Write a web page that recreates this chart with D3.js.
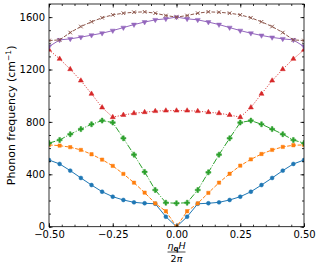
<!DOCTYPE html>
<html>
<head>
<meta charset="utf-8">
<script src="https://cdn.jsdelivr.net/npm/d3@7"></script>
<style>
  body { margin: 0; background: #fff; }
  text { font-family: "DejaVu Sans", sans-serif; }
</style>
</head>
<body>
<div id="chart"></div>
<script>
// q points along the path (units of 2π/H)
const qPoints = [-0.5, -0.4583, -0.4167, -0.375, -0.3333, -0.2917, -0.25, -0.2083, -0.1667, -0.125, -0.0833, -0.0417, 0,
  0.0417, 0.0833, 0.125, 0.1667, 0.2083, 0.25, 0.2917, 0.3333, 0.375, 0.4167, 0.4583, 0.5];

// phonon branches, cm^-1
const band1 = [509, 479, 428, 372, 318, 267, 229, 204, 186, 179, 175, 76, 0, 76, 175, 179, 186, 204, 229, 267, 318, 372, 428, 479, 509];
const band2 = [624, 619, 607, 586, 553, 512, 464, 403, 336, 260, 178, 118, 0, 118, 178, 258, 336, 404, 466, 514, 555, 586, 609, 622, 624];
const band3 = [638, 662, 706, 745, 782, 810, 795, 675, 550, 418, 280, 183, 179, 183, 280, 415, 550, 675, 795, 810, 782, 745, 706, 662, 638];
const band4 = [1350, 1281, 1202, 1115, 1014, 910, 836, 853, 866, 874, 882, 886, 886, 886, 882, 874, 866, 853, 836, 910, 1014, 1115, 1202, 1281, 1350];
const band5 = [1375, 1426, 1434, 1447, 1462, 1477, 1497, 1520, 1543, 1562, 1579, 1587, 1600, 1587, 1579, 1562, 1543, 1520, 1497, 1477, 1460, 1445, 1434, 1426, 1375];
const band6 = [1421, 1426, 1482, 1528, 1564, 1595, 1617, 1630, 1637, 1640, 1630, 1612, 1600, 1612, 1630, 1640, 1637, 1630, 1617, 1595, 1564, 1528, 1482, 1426, 1421];

const xMajor = [-0.5, -0.25, 0, 0.25, 0.5];
const yMajor = [0, 400, 800, 1200, 1600];

const width = 317, height = 266;
const margin = { top: 4, right: 13, bottom: 39.3, left: 49 };

const svg = d3.select("#chart").append("svg")
  .attr("width", width)
  .attr("height", height);

const x = d3.scaleLinear().domain([-0.5, 0.5]).range([margin.left, width - margin.right]);
const y = d3.scaleLinear().domain([0, 1700]).range([height - margin.bottom, margin.top]);

const xMinor = d3.range(-10, 11).map(d => d * 0.05);
const yMinor = d3.range(0, 18).map(d => d * 100);

// clip to axes box
svg.append("clipPath").attr("id", "clip")
  .append("rect")
  .attr("x", x(-0.5)).attr("y", y(1700))
  .attr("width", x(0.5) - x(-0.5)).attr("height", y(0) - y(1700));

const series = [
  { values: band1, color: "#1f77b4", dash: null, marker: "circle" },
  { values: band2, color: "#ff7f0e", dash: "3.7,1.6", marker: "square" },
  { values: band3, color: "#2ca02c", dash: "6.4,1.6,1,1.6", marker: "plus" },
  { values: band4, color: "#d62728", dash: "1,1.65", marker: "triUp" },
  { values: band5, color: "#9467bd", dash: null, marker: "triDown" },
  { values: band6, color: "#8c564b", dash: "3.7,1.6", marker: "x" },
];

const plot = svg.append("g").attr("clip-path", "url(#clip)");

const line = d3.line()
  .x((d, i) => x(qPoints[i]))
  .y(d => y(d));

const symbolFor = {
  circle: d3.symbol(d3.symbolCircle, 12),
  square: d3.symbol(d3.symbolSquare, 11),
  plus: d3.symbol(d3.symbolCross, 14),
  triUp: d3.symbol(d3.symbolTriangle, 11),
  triDown: d3.symbol(d3.symbolTriangle, 11),
  x: d3.symbol(d3.symbolX, 10),
};

series.forEach(s => {
  plot.append("path")
    .datum(s.values)
    .attr("d", line)
    .attr("fill", "none")
    .attr("stroke", s.color)
    .attr("stroke-width", 1)
    .attr("stroke-dasharray", s.dash);

  plot.selectAll(null)
    .data(s.values)
    .enter()
    .append("path")
    .attr("d", symbolFor[s.marker]())
    .attr("transform", (d, i) => `translate(${x(qPoints[i])},${y(d)})` + (s.marker === "triDown" ? " rotate(180)" : ""))
    .attr("fill", s.marker === "x" ? "none" : s.color)
    .attr("stroke", s.color)
    .attr("stroke-width", s.marker === "x" ? 1 : 0.5);
});

// axes, ticks pointing inward on all sides
function styleAxis(g) {
  g.select(".domain").remove();
  g.selectAll(".tick line").attr("stroke", "#000").attr("stroke-width", 0.8);
  g.selectAll(".tick text").attr("fill", "#000").attr("font-size", 10);
}

const fmt = d3.format(".2f");

svg.append("g")
  .attr("transform", `translate(0,${y(0)})`)
  .call(d3.axisBottom(x).tickValues(xMajor).tickSize(-3.5).tickPadding(4).tickFormat(fmt))
  .call(styleAxis);
svg.append("g")
  .attr("transform", `translate(0,${y(0)})`)
  .call(d3.axisBottom(x).tickValues(xMinor).tickSize(-2).tickFormat(""))
  .call(styleAxis);
svg.append("g")
  .attr("transform", `translate(0,${y(1700)})`)
  .call(d3.axisTop(x).tickValues(xMajor).tickSize(-3.5).tickFormat(""))
  .call(styleAxis);
svg.append("g")
  .attr("transform", `translate(0,${y(1700)})`)
  .call(d3.axisTop(x).tickValues(xMinor).tickSize(-2).tickFormat(""))
  .call(styleAxis);

svg.append("g")
  .attr("transform", `translate(${x(-0.5)},0)`)
  .call(d3.axisLeft(y).tickValues(yMajor).tickSize(-3.5).tickPadding(4).tickFormat(d3.format("d")))
  .call(styleAxis);
svg.append("g")
  .attr("transform", `translate(${x(-0.5)},0)`)
  .call(d3.axisLeft(y).tickValues(yMinor).tickSize(-2).tickFormat(""))
  .call(styleAxis);
svg.append("g")
  .attr("transform", `translate(${x(0.5)},0)`)
  .call(d3.axisRight(y).tickValues(yMajor).tickSize(-3.5).tickFormat(""))
  .call(styleAxis);
svg.append("g")
  .attr("transform", `translate(${x(0.5)},0)`)
  .call(d3.axisRight(y).tickValues(yMinor).tickSize(-2).tickFormat(""))
  .call(styleAxis);

// frame
svg.append("rect")
  .attr("x", x(-0.5)).attr("y", y(1700))
  .attr("width", x(0.5) - x(-0.5)).attr("height", y(0) - y(1700))
  .attr("fill", "none")
  .attr("stroke", "#000")
  .attr("stroke-width", 0.8);

// y label
const yl = svg.append("text")
  .attr("transform", `translate(15,${(y(0) + y(1700)) / 2}) rotate(-90)`)
  .attr("text-anchor", "middle")
  .attr("font-size", 11)
  .attr("fill", "#000");
yl.append("tspan").text("Phonon frequency (cm");
yl.append("tspan").attr("font-size", 7.5).attr("dy", -4).text("\u22121");
yl.append("tspan").attr("dy", 4).text(")");

// x label: fraction eta_q H / 2pi
const cx = x(0);
const num = svg.append("text")
  .attr("x", cx).attr("y", 249)
  .attr("text-anchor", "middle")
  .attr("font-size", 9.5)
  .attr("font-style", "italic")
  .attr("fill", "#000");
num.append("tspan").text("\u03b7");
num.append("tspan").attr("font-size", 7).attr("dy", 2).attr("font-weight", "bold").attr("font-style", "normal").text("q");
num.append("tspan").attr("dy", -2).text("H");

svg.append("line")
  .attr("x1", cx - 9).attr("x2", cx + 9)
  .attr("y1", 252).attr("y2", 252)
  .attr("stroke", "#000").attr("stroke-width", 0.7);

svg.append("text")
  .attr("x", cx).attr("y", 262)
  .attr("text-anchor", "middle")
  .attr("font-size", 9.5)
  .attr("fill", "#000")
  .text("2")
  .append("tspan").attr("font-style", "italic").text("\u03c0");
</script>
</body>
</html>
